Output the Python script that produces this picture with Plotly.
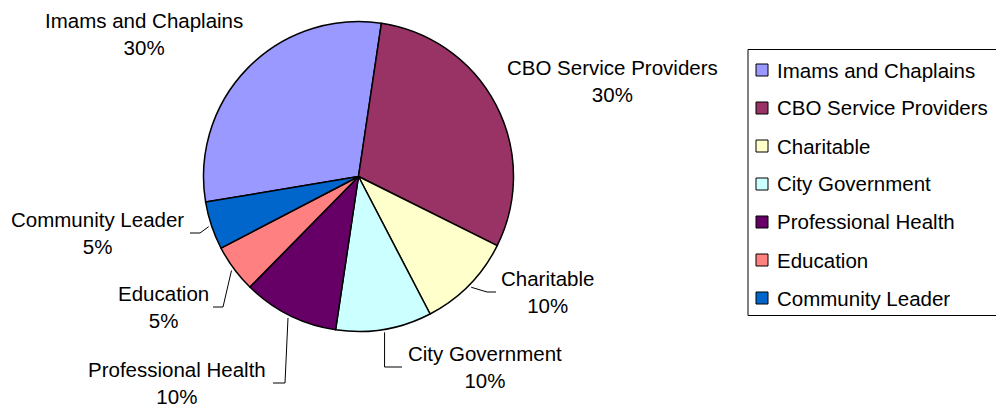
import math
import plotly.graph_objects as go

# Respondent categories and counts
categories = [
    "Imams and Chaplains",
    "CBO Service Providers",
    "Charitable",
    "City Government",
    "Professional Health",
    "Education",
    "Community Leader",
]
counts = [6, 6, 2, 2, 2, 1, 1]
colors = ["#9999FF", "#993366", "#FFFFCC", "#CCFFFF", "#660066", "#FF8080", "#0066CC"]

W, H = 996, 408
FONT = "Liberation Sans, Arial, sans-serif"
FS = 20.5

# pie geometry (pixels)
CX, CY, R = 358.5, 176.5, 155.0
START = 260.5  # degrees clockwise from 12 o'clock where the first slice begins


def px(x):
    return x / W


def py(y):
    return 1 - y / H


# label block centres (pixels) and leader-line routing
label_pos = {
    "Imams and Chaplains": (144, 34),
    "CBO Service Providers": (612, 81),
    "Charitable": (547, 292),
    "City Government": (485, 367),
    "Professional Health": (177, 383),
    "Education": (163, 307),
    "Community Leader": (97, 233),
}
# (tail x next to the text, elbow x; None means elbow straight below the slice)
leaders = {
    "Charitable": (496, 487),
    "City Government": (402, None),
    "Professional Health": (273, 285),
    "Education": (213, 223),
    "Community Leader": (190, 200),
}

fig = go.Figure()
fig.add_trace(go.Pie(
    labels=categories,
    values=counts,
    sort=False,
    direction="clockwise",
    rotation=START,
    marker=dict(colors=colors, line=dict(color="black", width=1.5)),
    textinfo="none",
    hoverinfo="label+percent",
    showlegend=False,
    domain=dict(x=[px(CX - R), px(CX + R)], y=[py(CY + R), py(CY - R)]),
))

total = sum(counts)
shapes = []
annotations = []
acc = START
for name, v in zip(categories, counts):
    span = 360.0 * v / total
    mid = math.radians(acc + span / 2)
    acc += span
    pct = round(100.0 * v / total)
    lx, ly = label_pos[name]
    annotations.append(dict(
        x=px(lx), y=py(ly), xref="paper", yref="paper",
        text=f"{name}<br>{pct}%", showarrow=False,
        xanchor="center", yanchor="middle", align="center",
        font=dict(family=FONT, size=FS, color="black"),
    ))
    if name in leaders:
        ex = CX + (R + 3) * math.sin(mid)
        ey = CY - (R + 3) * math.cos(mid)
        tail_x, elbow_x = leaders[name]
        if elbow_x is None:
            elbow_x = ex
        path = (f"M {px(tail_x)},{py(ly)} L {px(elbow_x)},{py(ly)} "
                f"L {px(ex)},{py(ey)}")
        shapes.append(dict(type="path", path=path, xref="paper", yref="paper",
                           line=dict(color="black", width=1)))

# legend frame: top, left and bottom edges; it runs past the page on the right
LEG_TOP, LEG_BOTTOM, LEG_LEFT, LEG_RIGHT = 49.5, 315.5, 748, 996
for (x0, y0, x1, y1) in [
    (LEG_LEFT, LEG_TOP, LEG_RIGHT, LEG_TOP),
    (LEG_LEFT, LEG_TOP, LEG_LEFT, LEG_BOTTOM),
    (LEG_LEFT, LEG_BOTTOM, LEG_RIGHT, LEG_BOTTOM),
]:
    shapes.append(dict(type="line", xref="paper", yref="paper",
                       x0=px(x0), y0=py(y0), x1=px(x1), y1=py(y1),
                       line=dict(color="black", width=1)))
ITEM0, STEP, SW = 70, 38, 12
for i, (name, c) in enumerate(zip(categories, colors)):
    yc = ITEM0 + STEP * i
    shapes.append(dict(type="rect", xref="paper", yref="paper",
                       x0=px(756), x1=px(756 + SW), y0=py(yc + SW / 2), y1=py(yc - SW / 2),
                       line=dict(color="black", width=1), fillcolor=c))
    annotations.append(dict(
        x=px(775), y=py(yc), xref="paper", yref="paper", text=name,
        showarrow=False, xanchor="left", yanchor="middle", align="left",
        font=dict(family=FONT, size=FS, color="black"),
    ))

fig.update_layout(
    width=W, height=H,
    margin=dict(l=0, r=0, t=0, b=0),
    paper_bgcolor="white", plot_bgcolor="white",
    shapes=shapes, annotations=annotations,
    showlegend=False,
)
fig.write_html("out.html")
